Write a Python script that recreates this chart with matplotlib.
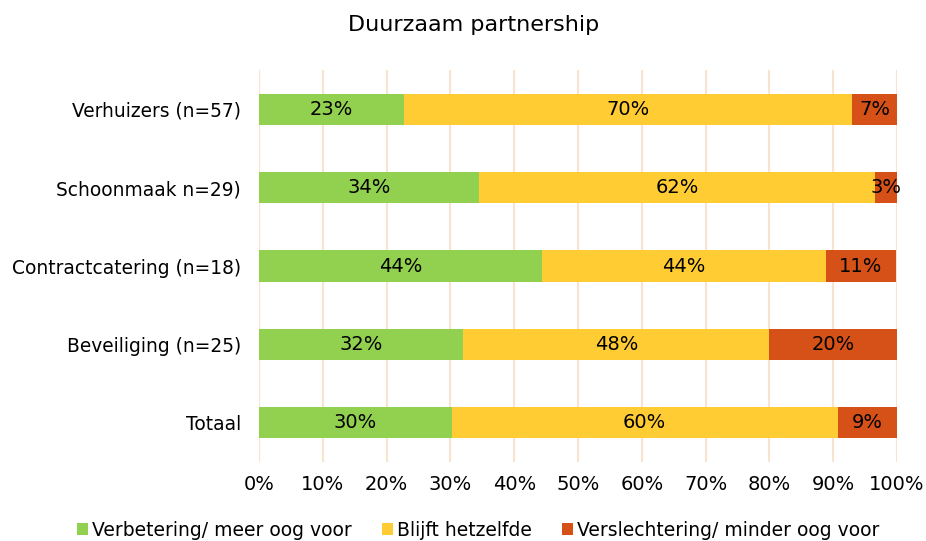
import matplotlib
matplotlib.use("Agg")
import matplotlib.pyplot as plt
import numpy as np

categories = ["Verhuizers (n=57)", "Schoonmaak n=29)", "Contractcatering (n=18)",
              "Beveiliging (n=25)", "Totaal"]
verbetering = [22.8, 34.5, 44.4, 32.0, 30.2]
hetzelfde = [70.2, 62.1, 44.4, 48.0, 60.5]
verslechtering = [7.0, 3.4, 11.1, 20.0, 9.3]
series_names = ["Verbetering/ meer oog voor", "Blijft hetzelfde",
                "Verslechtering/ minder oog voor"]
colors = ["#92D050", "#FFCD33", "#D55118"]

fig = plt.figure(figsize=(9.26, 5.41), dpi=100)
ax = fig.add_axes([259/926, 1-462/541, (897-259)/926, (462-70)/541])

y = np.arange(len(categories))
left = np.zeros(len(categories))
for vals, name, col in zip([verbetering, hetzelfde, verslechtering], series_names, colors):
    vals = np.array(vals)
    bars = ax.barh(y, vals, left=left, height=0.4, color=col, label=name, zorder=3)
    for b, v in zip(bars, vals):
        ax.text(b.get_x() + b.get_width()/2, b.get_y() + b.get_height()/2,
                f"{v:.0f}%", ha="center", va="center", fontsize=14, color="black", zorder=4)
    left += vals

ax.set_xlim(0, 100)
ax.set_ylim(len(categories) - 0.5, -0.5)
ax.set_yticks(y)
ax.set_yticklabels(categories, fontsize=13.4)
ax.set_xticks(np.arange(0, 101, 10))
ax.set_xticklabels([f"{t}%" for t in range(0, 101, 10)], fontsize=14)
ax.tick_params(axis="y", length=0, pad=13)
ax.tick_params(axis="x", length=0, pad=9)
ax.xaxis.grid(True, color="#F8E2D0", linewidth=1.5, zorder=0)
for s in ax.spines.values():
    s.set_visible(False)

fig.text(474/926, 1-25/541, "Duurzaam partnership", ha="center", va="center", fontsize=16)

fig.legend(loc="center", bbox_to_anchor=(478/926, 1-530/541), ncol=3, frameon=False,
           fontsize=13.5, handlelength=0.6, handleheight=0.6, handletextpad=0.2,
           columnspacing=1.6)

fig.savefig("out.png", dpi=100)
